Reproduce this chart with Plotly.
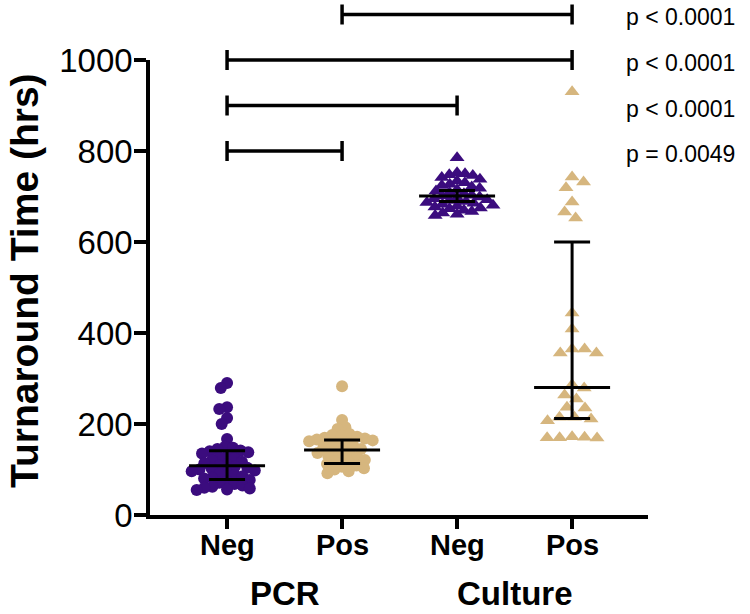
import numpy as np
import plotly.graph_objects as go

# ---------------- data ----------------
categories = ["Neg", "Pos", "Neg", "Pos"]
groups = ["PCR", "Culture"]

pcr_neg = [290, 279, 237, 233, 213, 200, 167, 150, 148, 145, 142, 140, 138, 135, 130,
           127, 124, 120, 117, 114, 111, 108, 106, 104, 102, 100, 98, 96, 93, 90, 88,
           85, 82, 80, 77, 74, 71, 68, 65, 62, 60, 58, 56, 55]
pcr_pos = [283, 209, 193, 189, 178, 176, 174, 172, 170, 168, 166, 164, 162, 160, 157,
           154, 151, 148, 145, 142, 139, 136, 133, 130, 127, 124, 121, 118, 115, 112,
           109, 106, 103, 100, 96, 92]
culture_neg = [785, 752, 750, 748, 746, 742, 738, 734, 730, 727, 724, 721, 718, 715,
               712, 709, 706, 703, 701, 699, 697, 695, 693, 691, 689, 687, 685, 683,
               681, 679, 677, 675, 673, 670, 667, 664, 661, 658]
culture_pos = [930, 743, 732, 719, 688, 666, 653, 444, 409, 365, 365, 356, 356, 286,
               279, 264, 255, 237, 235, 215, 215, 211, 207, 172, 171, 170, 170, 169]

medians = [108, 143, 701, 280]
q1 = [78, 113, 689, 212]
q3 = [141, 165, 713, 600]

comparisons = [(0, 1), (0, 2), (0, 3), (1, 3)]
comparison_levels = [800, 900, 1000, 1100]
p_labels = ["p = 0.0049", "p < 0.0001", "p < 0.0001", "p < 0.0001"]

y_ticks = [0, 200, 400, 600, 800, 1000]

# ---------------- style ----------------
PURPLE = "#3b0c7e"
GOLD = "#d6b67e"
FONT = "Liberation Sans, Arial, sans-serif"
W, H = 750, 614
M = dict(l=150, r=102, t=60, b=99)
XR = [-0.67, 3.66]
YR = [0, 1000]
plot_w = W - M["l"] - M["r"]
plot_h = H - M["t"] - M["b"]
px_per_x = plot_w / (XR[1] - XR[0])
px_per_y = plot_h / (YR[1] - YR[0])
plot_bottom_px = M["t"] + plot_h


def paper_x(page_px):
    return (page_px - M["l"]) / plot_w


def paper_y(page_px):
    return (plot_bottom_px - page_px) / plot_h


series = [
    (pcr_neg, PURPLE, "circle", 12, 8.0),
    (pcr_pos, GOLD, "circle", 12, 8.0),
    (culture_neg, PURPLE, "triangle-up", 13, 8.0),
    (culture_pos, GOLD, "triangle-up", 13, 12.5),
]


def beeswarm(values, diam):
    """Compact beeswarm: returns x offsets in pixels."""
    order = np.argsort(values)[::-1]
    placed = []
    offs = np.zeros(len(values))
    for k, i in enumerate(order):
        y = values[i] * px_per_y
        cands = [0.0]
        for (px, py) in placed:
            dy = abs(py - y)
            if dy < diam:
                dx = np.sqrt(diam ** 2 - dy ** 2)
                cands += [px + dx, px - dx]
        valid = []
        for c in cands:
            ok = True
            for (px, py) in placed:
                if (px - c) ** 2 + (py - y) ** 2 < diam ** 2 - 1e-6:
                    ok = False
                    break
            if ok:
                valid.append(c)
        sign = 1 if k % 2 == 0 else -1
        best = min(valid, key=lambda c: (round(abs(c), 3), -sign * c))
        placed.append((best, y))
        offs[i] = best
    return offs


fig = go.Figure()

for idx, (vals, col, sym, size, diam) in enumerate(series):
    v = np.array(vals, dtype=float)
    offs = beeswarm(v, diam) / px_per_x
    fig.add_trace(go.Scatter(
        x=idx + offs, y=v, mode="markers",
        marker=dict(color=col, symbol=sym, size=size, line=dict(width=0)),
        showlegend=False, cliponaxis=False, hoverinfo="y"))

# median + IQR
MED_HALF = 38 / px_per_x
CAP_HALF = 18 / px_per_x
for idx in range(len(categories)):
    xs = [idx - MED_HALF, idx + MED_HALF, None,
          idx - CAP_HALF, idx + CAP_HALF, None,
          idx - CAP_HALF, idx + CAP_HALF, None,
          idx, idx]
    ys = [medians[idx], medians[idx], None,
          q1[idx], q1[idx], None,
          q3[idx], q3[idx], None,
          q1[idx], q3[idx]]
    fig.add_trace(go.Scatter(x=xs, y=ys, mode="lines",
                             line=dict(color="black", width=3),
                             showlegend=False, hoverinfo="skip"))

# significance brackets
shapes = []
annotations = []
for (a, b), lvl, lab in zip(comparisons, comparison_levels, p_labels):
    yp = (lvl - YR[0]) / (YR[1] - YR[0])
    shapes.append(dict(type="line", xref="x", yref="paper", x0=a, x1=b, y0=yp, y1=yp,
                       line=dict(color="black", width=3.5)))
    for xe in (a, b):
        shapes.append(dict(type="line", xref="x", yref="paper", ysizemode="pixel",
                           yanchor=yp, x0=xe, x1=xe, y0=-10, y1=10,
                           line=dict(color="black", width=3.5)))
    annotations.append(dict(text=lab, xref="paper", yref="paper",
                            x=paper_x(624), y=yp, yshift=-3,
                            xanchor="left", yanchor="middle", showarrow=False,
                            font=dict(family=FONT, size=23, color="black")))

# category labels (x tick labels) and group labels
for ci, c in enumerate(categories):
    annotations.append(dict(text=c, xref="x", yref="paper", x=ci, y=paper_y(545),
                            xanchor="center", yanchor="middle", showarrow=False,
                            font=dict(family=FONT, size=29, color="black", weight="bold")))
for gi, g in enumerate(groups):
    annotations.append(dict(text=g, xref="x", yref="paper", x=2 * gi + 0.5,
                            y=paper_y(593), xanchor="center", yanchor="middle",
                            showarrow=False,
                            font=dict(family=FONT, size=33, color="black", weight="bold")))

# y title
annotations.append(dict(text="Turnaround Time (hrs)", xref="paper", yref="paper",
                        x=paper_x(24), y=paper_y(281),
                        xanchor="center", yanchor="middle", textangle=-90, showarrow=False,
                        font=dict(family=FONT, size=39, color="black", weight="bold")))

fig.update_layout(
    width=W, height=H, margin=M,
    plot_bgcolor="white", paper_bgcolor="white",
    shapes=shapes, annotations=annotations,
    xaxis=dict(range=XR, tickvals=list(range(len(categories))), ticktext=categories,
               showticklabels=False,
               showgrid=False, zeroline=False, showline=True, linecolor="black",
               linewidth=3.5, ticks="outside", ticklen=10, tickwidth=3.5,
               tickcolor="black"),
    yaxis=dict(range=YR, tickvals=y_ticks, showgrid=False, zeroline=False,
               showline=True, linecolor="black", linewidth=3.5, ticks="outside",
               ticklen=12, tickwidth=3.5, tickcolor="black",
               tickfont=dict(family=FONT, size=33, color="black")),
)
try:
    fig.update_yaxes(ticklabelstandoff=-5)
except Exception:
    pass

fig.write_html("out.html",
               config={"displayModeBar": False},
               post_script="document.body.style.margin='0';document.body.style.overflow='hidden';")
